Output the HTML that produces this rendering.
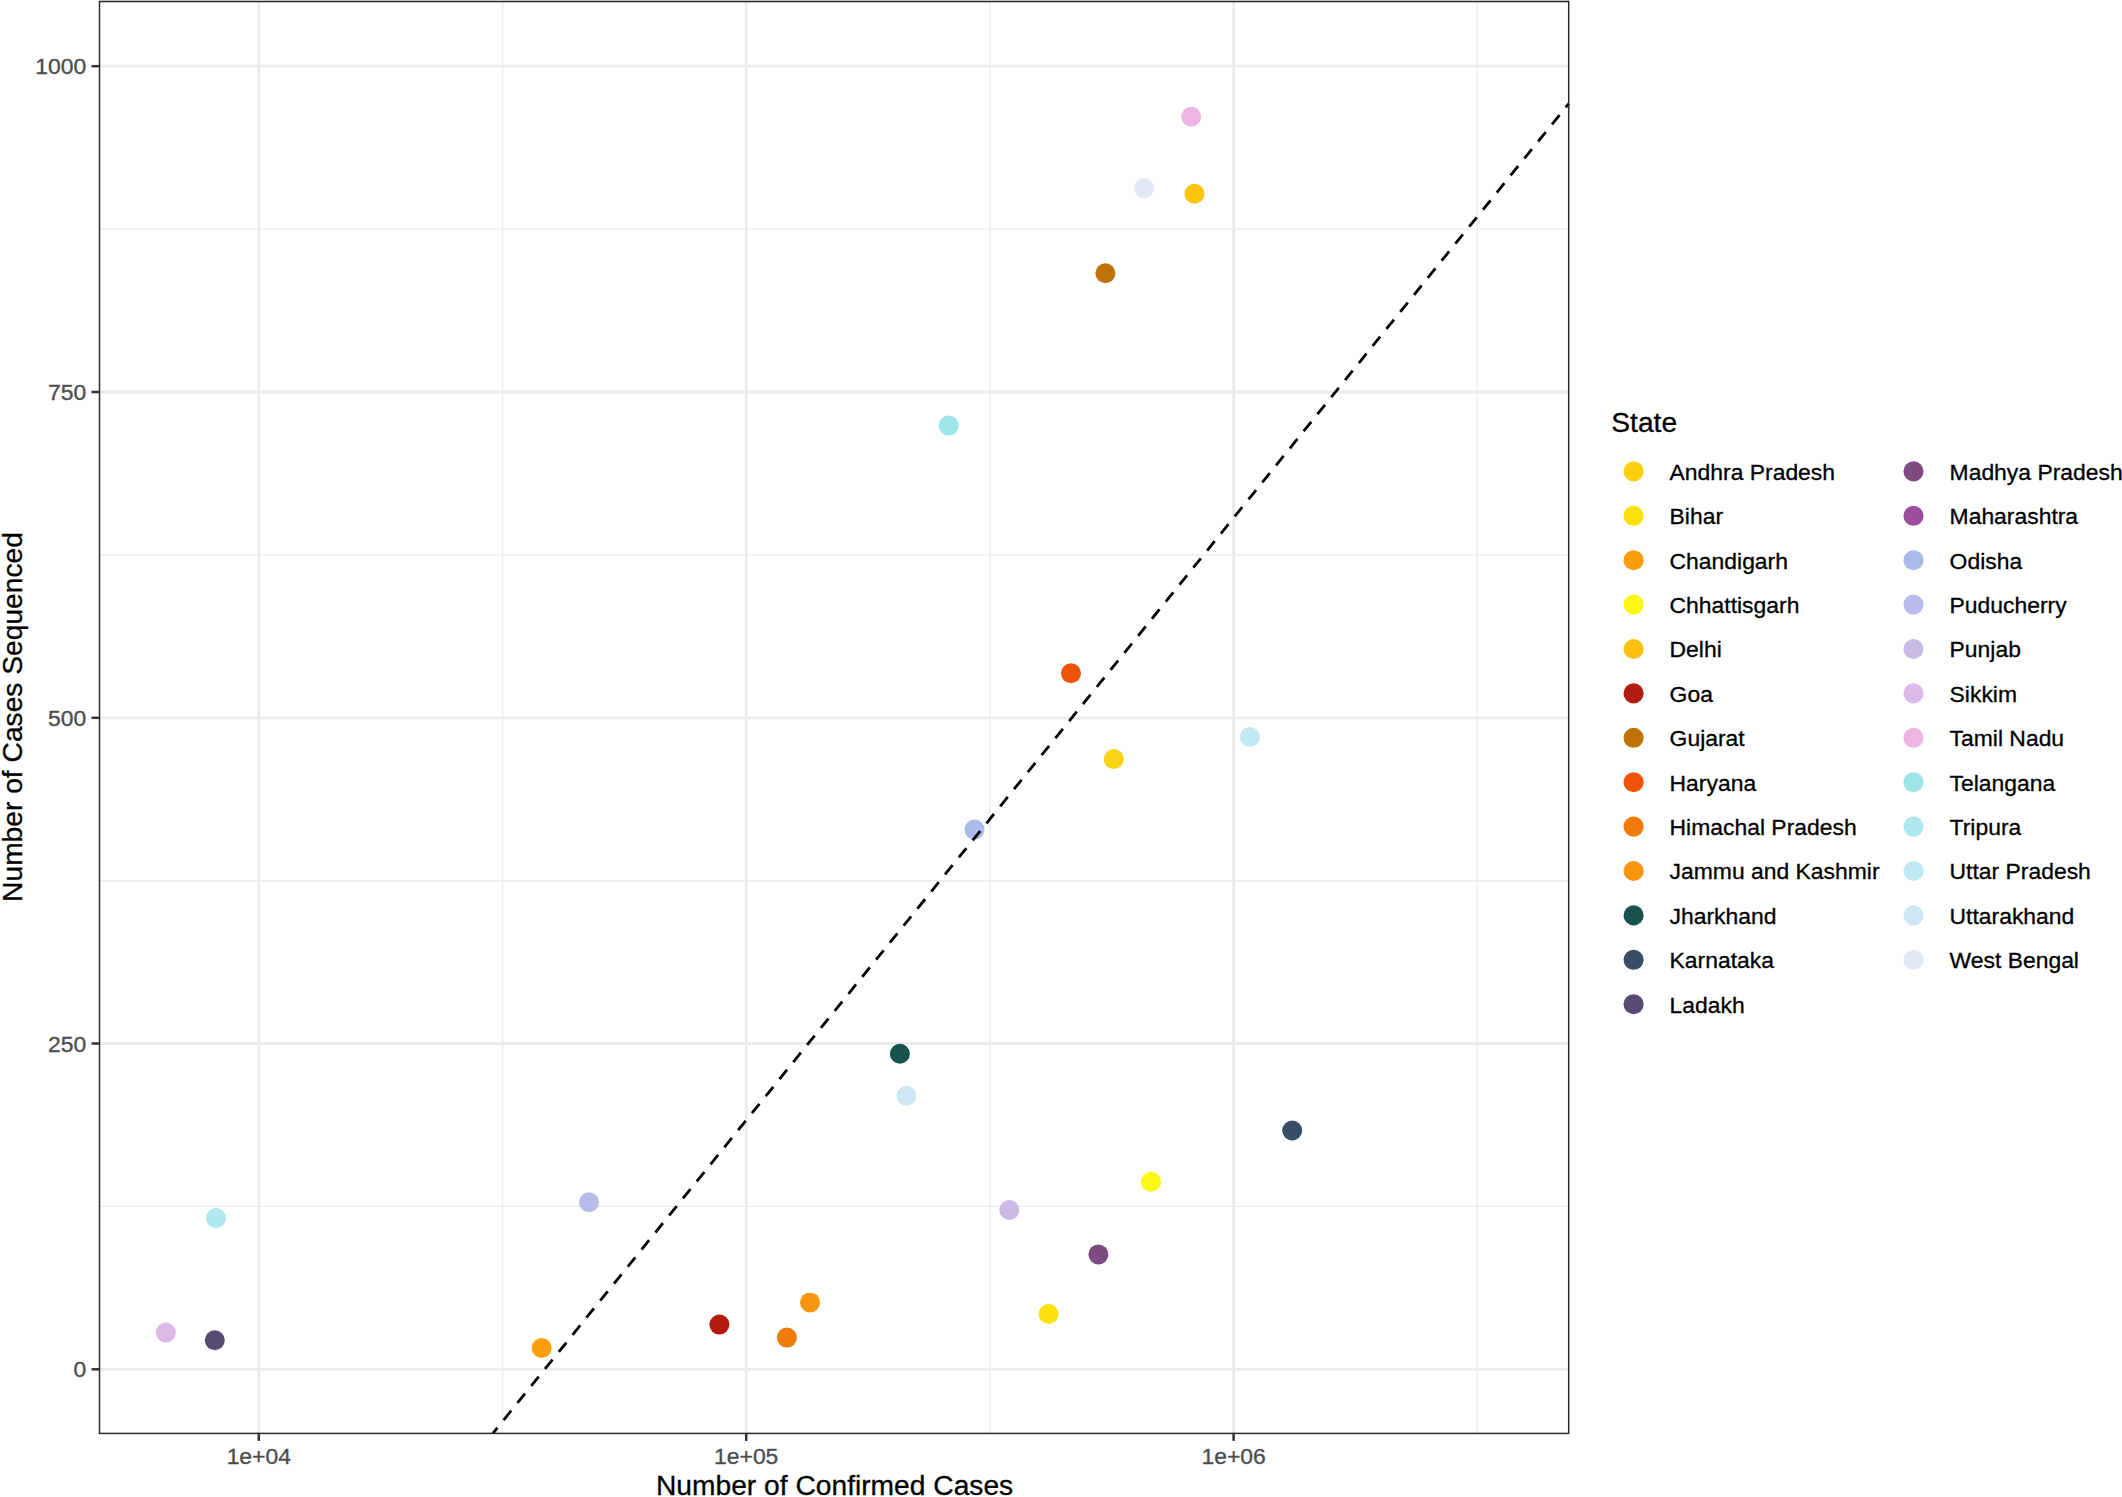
<!DOCTYPE html>
<html lang="en"><head><meta charset="utf-8"><title>Cases sequenced vs confirmed</title>
<style>html,body{margin:0;padding:0;background:#fff}svg{display:block}text{font-family:"Liberation Sans",Arial,Helvetica,sans-serif}</style></head><body>
<svg width="2122" height="1497" viewBox="0 0 2122 1497">
<rect width="2122" height="1497" fill="#fff"/>
<g stroke="#ebebeb" fill="none">
<line x1="502.5" x2="502.5" y1="1.55" y2="1433.4" stroke-width="1.4"/>
<line x1="989.9" x2="989.9" y1="1.55" y2="1433.4" stroke-width="1.4"/>
<line x1="1477.3" x2="1477.3" y1="1.55" y2="1433.4" stroke-width="1.4"/>
<line x1="99.5" x2="1568.7" y1="1206.4" y2="1206.4" stroke-width="1.4"/>
<line x1="99.5" x2="1568.7" y1="880.7" y2="880.7" stroke-width="1.4"/>
<line x1="99.5" x2="1568.7" y1="554.9" y2="554.9" stroke-width="1.4"/>
<line x1="99.5" x2="1568.7" y1="229.1" y2="229.1" stroke-width="1.4"/>
<line x1="258.8" x2="258.8" y1="1.55" y2="1433.4" stroke-width="2.8"/>
<line x1="746.2" x2="746.2" y1="1.55" y2="1433.4" stroke-width="2.8"/>
<line x1="1233.6" x2="1233.6" y1="1.55" y2="1433.4" stroke-width="2.8"/>
<line x1="99.5" x2="1568.7" y1="1369.3" y2="1369.3" stroke-width="2.8"/>
<line x1="99.5" x2="1568.7" y1="1043.5" y2="1043.5" stroke-width="2.8"/>
<line x1="99.5" x2="1568.7" y1="717.8" y2="717.8" stroke-width="2.8"/>
<line x1="99.5" x2="1568.7" y1="392.0" y2="392.0" stroke-width="2.8"/>
<line x1="99.5" x2="1568.7" y1="66.2" y2="66.2" stroke-width="2.8"/>
</g>
<g>
<circle cx="165.8" cy="1332.6" r="10" fill="#DDB9E8"/>
<circle cx="214.8" cy="1340.3" r="10" fill="#574B74"/>
<circle cx="216.0" cy="1218.0" r="10" fill="#AEE8EE"/>
<circle cx="541.7" cy="1348.0" r="10" fill="#FB9E09"/>
<circle cx="589.0" cy="1202.2" r="10" fill="#B9BBEA"/>
<circle cx="719.4" cy="1324.6" r="10" fill="#B21B10"/>
<circle cx="786.9" cy="1337.6" r="10" fill="#EF7B0B"/>
<circle cx="810.0" cy="1302.4" r="10" fill="#F9950C"/>
<circle cx="899.9" cy="1053.7" r="10" fill="#185250"/>
<circle cx="906.4" cy="1095.7" r="10" fill="#CFE6F5"/>
<circle cx="948.7" cy="425.6" r="10" fill="#9CE6EA"/>
<circle cx="974.5" cy="829.6" r="10" fill="#A9BBEA"/>
<circle cx="1009.3" cy="1210.0" r="10" fill="#C9BBE6"/>
<circle cx="1048.6" cy="1314.0" r="10" fill="#FCE10D"/>
<circle cx="1071.0" cy="673.2" r="10" fill="#EF5308"/>
<circle cx="1098.4" cy="1254.4" r="10" fill="#7D4A82"/>
<circle cx="1105.4" cy="273.2" r="10" fill="#BF720A"/>
<circle cx="1113.8" cy="759.1" r="10" fill="#F7D417"/>
<circle cx="1144.1" cy="188.3" r="10" fill="#DFE9F8"/>
<circle cx="1151.0" cy="1181.8" r="10" fill="#FDF512"/>
<circle cx="1191.2" cy="116.7" r="10" fill="#EDB5E2"/>
<circle cx="1194.5" cy="193.7" r="10" fill="#FCC50C"/>
<circle cx="1249.8" cy="737.0" r="10" fill="#C0E8F3"/>
<circle cx="1292.2" cy="1130.5" r="10" fill="#384E66"/>
</g>
<line x1="1569" y1="103.3" x2="492.9" y2="1433.3" stroke="#000" stroke-width="2.8" stroke-dasharray="12 9.93" stroke-dashoffset="6.86"/>
<rect x="98.8" y="0" width="1470.6" height="0.9" fill="#e4e4e4"/>
<rect x="99.5" y="1.55" width="1469.20" height="1431.85" fill="none" stroke="#2b2b2b" stroke-width="1.5"/>
<g stroke="#333" stroke-width="2.5">
<line x1="258.8" x2="258.8" y1="1433.4" y2="1440.9"/>
<line x1="746.2" x2="746.2" y1="1433.4" y2="1440.9"/>
<line x1="1233.6" x2="1233.6" y1="1433.4" y2="1440.9"/>
<line x1="91.5" x2="99.5" y1="1369.3" y2="1369.3"/>
<line x1="91.5" x2="99.5" y1="1043.5" y2="1043.5"/>
<line x1="91.5" x2="99.5" y1="717.8" y2="717.8"/>
<line x1="91.5" x2="99.5" y1="392.0" y2="392.0"/>
<line x1="91.5" x2="99.5" y1="66.2" y2="66.2"/>
</g>
<g fill="#4d4d4d" stroke="#4d4d4d" stroke-width="0.35" font-size="22.9">
<text x="86.2" y="1377.4" text-anchor="end">0</text>
<text x="86.2" y="1051.6" text-anchor="end">250</text>
<text x="86.2" y="725.9" text-anchor="end">500</text>
<text x="86.2" y="400.1" text-anchor="end">750</text>
<text x="86.2" y="74.3" text-anchor="end">1000</text>
<text x="258.8" y="1463.8" text-anchor="middle">1e+04</text>
<text x="746.2" y="1463.8" text-anchor="middle">1e+05</text>
<text x="1233.6" y="1463.8" text-anchor="middle">1e+06</text>
</g>
<g fill="#000" stroke="#000" stroke-width="0.3" font-size="28.2">
<text x="834.6" y="1494.6" text-anchor="middle">Number of Confirmed Cases</text>
<text transform="translate(22,717) rotate(-90)" text-anchor="middle">Number of Cases Sequenced</text>
<text x="1611.3" y="432.3">State</text>
</g>
<g font-size="22.9" fill="#000" stroke-width="0.3">
<circle cx="1633.6" cy="471.4" r="10.05" fill="#F9D00F"/><text stroke="#000" x="1669.6" y="479.8">Andhra Pradesh</text>
<circle cx="1633.6" cy="515.8" r="10.05" fill="#FCE10D"/><text stroke="#000" x="1669.6" y="524.2">Bihar</text>
<circle cx="1633.6" cy="560.2" r="10.05" fill="#FB9E09"/><text stroke="#000" x="1669.6" y="568.6">Chandigarh</text>
<circle cx="1633.6" cy="604.6" r="10.05" fill="#FDF512"/><text stroke="#000" x="1669.6" y="613.0">Chhattisgarh</text>
<circle cx="1633.6" cy="649.0" r="10.05" fill="#FCC013"/><text stroke="#000" x="1669.6" y="657.4">Delhi</text>
<circle cx="1633.6" cy="693.4" r="10.05" fill="#B21B10"/><text stroke="#000" x="1669.6" y="701.8">Goa</text>
<circle cx="1633.6" cy="737.8" r="10.05" fill="#BF720A"/><text stroke="#000" x="1669.6" y="746.2">Gujarat</text>
<circle cx="1633.6" cy="782.2" r="10.05" fill="#EF5308"/><text stroke="#000" x="1669.6" y="790.6">Haryana</text>
<circle cx="1633.6" cy="826.6" r="10.05" fill="#EF7B0B"/><text stroke="#000" x="1669.6" y="835.0">Himachal Pradesh</text>
<circle cx="1633.6" cy="871.0" r="10.05" fill="#F9950C"/><text stroke="#000" x="1669.6" y="879.4">Jammu and Kashmir</text>
<circle cx="1633.6" cy="915.4" r="10.05" fill="#185250"/><text stroke="#000" x="1669.6" y="923.8">Jharkhand</text>
<circle cx="1633.6" cy="959.8" r="10.05" fill="#384E66"/><text stroke="#000" x="1669.6" y="968.2">Karnataka</text>
<circle cx="1633.6" cy="1004.2" r="10.05" fill="#574B74"/><text stroke="#000" x="1669.6" y="1012.6">Ladakh</text>
<circle cx="1913.5" cy="471.4" r="10.05" fill="#7D4A82"/><text stroke="#000" x="1949.6" y="479.8">Madhya Pradesh</text>
<circle cx="1913.5" cy="515.8" r="10.05" fill="#9B4F9B"/><text stroke="#000" x="1949.6" y="524.2">Maharashtra</text>
<circle cx="1913.5" cy="560.2" r="10.05" fill="#A9BBEA"/><text stroke="#000" x="1949.6" y="568.6">Odisha</text>
<circle cx="1913.5" cy="604.6" r="10.05" fill="#B9BBEA"/><text stroke="#000" x="1949.6" y="613.0">Puducherry</text>
<circle cx="1913.5" cy="649.0" r="10.05" fill="#C9BBE6"/><text stroke="#000" x="1949.6" y="657.4">Punjab</text>
<circle cx="1913.5" cy="693.4" r="10.05" fill="#DDB9E8"/><text stroke="#000" x="1949.6" y="701.8">Sikkim</text>
<circle cx="1913.5" cy="737.8" r="10.05" fill="#EDB5E2"/><text stroke="#000" x="1949.6" y="746.2">Tamil Nadu</text>
<circle cx="1913.5" cy="782.2" r="10.05" fill="#9CE6EA"/><text stroke="#000" x="1949.6" y="790.6">Telangana</text>
<circle cx="1913.5" cy="826.6" r="10.05" fill="#AEE8EE"/><text stroke="#000" x="1949.6" y="835.0">Tripura</text>
<circle cx="1913.5" cy="871.0" r="10.05" fill="#C0E8F3"/><text stroke="#000" x="1949.6" y="879.4">Uttar Pradesh</text>
<circle cx="1913.5" cy="915.4" r="10.05" fill="#CFE6F5"/><text stroke="#000" x="1949.6" y="923.8">Uttarakhand</text>
<circle cx="1913.5" cy="959.8" r="10.05" fill="#DFE9F8"/><text stroke="#000" x="1949.6" y="968.2">West Bengal</text>
</g>
</svg></body></html>
